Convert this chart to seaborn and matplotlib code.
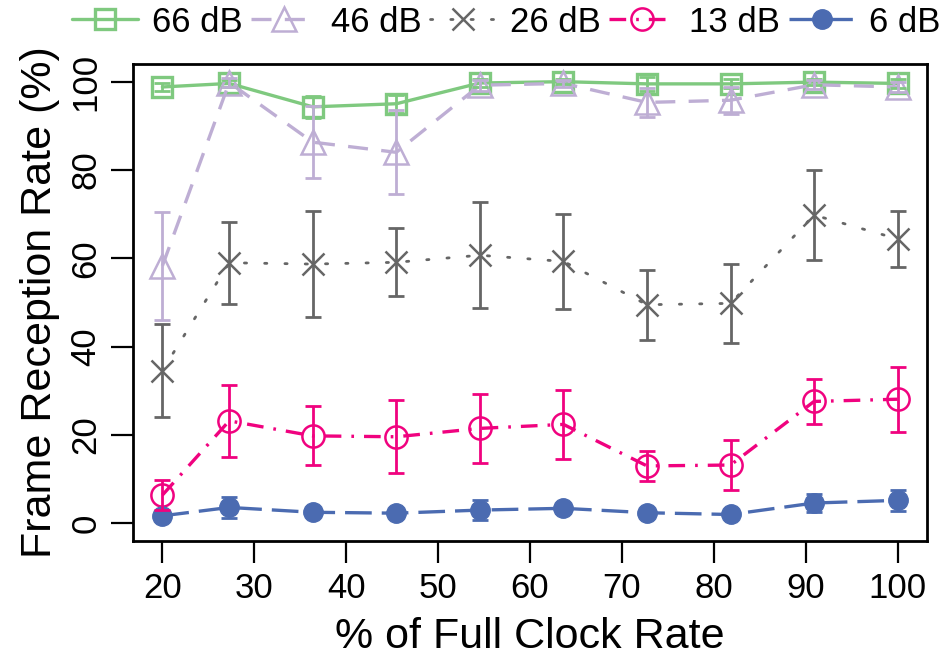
import numpy as np
import pandas as pd
import matplotlib
matplotlib.use("Agg")
import matplotlib.pyplot as plt
import seaborn as sns

# ---- data ----
clock_rate = [20, 27.27, 36.36, 45.45, 54.55, 63.64, 72.73, 81.82, 90.91, 100]
series_names = ["66 dB", "46 dB", "26 dB", "13 dB", "6 dB"]
rate_66 = [98.8, 99.6, 94.3, 95.0, 99.7, 100.0, 99.5, 99.5, 99.9, 99.6]
err_66 = [1.0, 0.8, 2.5, 2.0, 1.0, 0.5, 1.5, 1.0, 0.6, 1.0]
rate_46 = [58.3, 99.8, 86.3, 84.0, 99.2, 99.6, 95.3, 95.8, 99.3, 98.8]
err_46 = [12.2, 1.0, 8.1, 9.5, 1.2, 0.8, 3.2, 3.1, 1.0, 1.2]
rate_26 = [34.6, 59.0, 58.7, 59.1, 60.7, 59.3, 49.5, 49.8, 69.8, 64.4]
err_26 = [10.5, 9.3, 12.0, 7.7, 12.0, 10.8, 7.9, 8.9, 10.1, 6.4]
rate_13 = [6.4, 23.2, 19.8, 19.6, 21.5, 22.4, 13.0, 13.2, 27.6, 28.1]
err_13 = [3.4, 8.1, 6.7, 8.3, 7.8, 7.8, 3.4, 5.7, 5.1, 7.4]
rate_6 = [1.7, 3.6, 2.5, 2.3, 3.0, 3.4, 2.4, 2.0, 4.6, 5.2]
err_6 = [0.4, 2.3, 0.8, 0.6, 2.2, 1.0, 0.6, 0.5, 2.1, 2.3]
x_ticks = [20, 30, 40, 50, 60, 70, 80, 90, 100]
y_ticks = [0, 20, 40, 60, 80, 100]

rates = [rate_66, rate_46, rate_26, rate_13, rate_6]
errs = [err_66, err_46, err_26, err_13, err_6]

# ---- styles ----
colors = ["#7FC97F", "#BEAED4", "#666666", "#F0027F", "#4B6BB1"]
styles = [
    dict(marker="s", markersize=15, markerfacecolor="none", markeredgewidth=2.4,
         lw=2.4, ls="-"),
    dict(marker="^", markersize=17, markerfacecolor="none", markeredgewidth=1.8,
         lw=2.4, ls=(0, (6, 4))),
    dict(marker="x", markersize=16, markeredgewidth=1.8,
         lw=2.0, ls=(0, (0.8, 6.5)), dash_capstyle="round"),
    dict(marker="o", markersize=16, markerfacecolor="none", markeredgewidth=1.8,
         lw=2.4, ls=(0, (5, 3, 0.8, 3))),
    dict(marker="o", markersize=14, markeredgewidth=1.0,
         lw=2.4, ls=(0, (8, 3))),
]

sns.set_theme(style="ticks")
plt.rcParams["font.family"] = ["Liberation Sans", "DejaVu Sans"]
plt.rcParams["text.color"] = "black"
plt.rcParams["axes.labelcolor"] = "black"
plt.rcParams["xtick.color"] = "black"
plt.rcParams["ytick.color"] = "black"

fig = plt.figure(figsize=(9.4, 6.63), dpi=100)
ax = fig.add_axes([133 / 940, 122 / 663, 794 / 940, 477 / 663])

for name, r, c, st in zip(series_names, rates, colors, styles):
    df = pd.DataFrame({"x": clock_rate, "y": r})
    sns.lineplot(data=df, x="x", y="y", ax=ax, color=c, errorbar=None,
                 markeredgecolor=c, label=name, zorder=2, **st)
for r, e, c in zip(rates, errs, colors):
    ax.errorbar(clock_rate, r, yerr=e, fmt="none", ecolor=c, elinewidth=2.0,
                capsize=6, capthick=2.0, zorder=3)

h, l = ax.get_legend_handles_labels()
if ax.get_legend():
    ax.get_legend().remove()
fig.legend(h, l, loc="center", bbox_to_anchor=(506 / 940, 1 - 22 / 663),
           ncol=5, frameon=False, fontsize=25, handlelength=1.9,
           handletextpad=0.4, columnspacing=0.25, borderpad=0, borderaxespad=0,
           labelcolor="black")

ax.set_xlim(16.8, 103.2)
ax.set_ylim(-4, 104)
ax.set_xticks(x_ticks)
ax.set_yticks(y_ticks)
ax.set_xticklabels([str(t) for t in x_ticks])
ax.set_yticklabels([str(t) for t in y_ticks], rotation=90, va="center")
ax.tick_params(axis="both", direction="out", length=16, width=1.6,
               labelsize=25, pad=6, color="black", labelcolor="black")
for sp in ax.spines.values():
    sp.set_visible(True)
    sp.set_linewidth(2.0)
    sp.set_color("black")

ax.set_xlabel("% of Full Clock Rate", fontsize=31, color="black")
ax.set_ylabel("Frame Reception Rate (%)", fontsize=31, color="black")
ax.xaxis.set_label_coords(0.5, (663 - 617 - 122) / 477)
ax.yaxis.set_label_coords((60 - 133) / 794, 0.5)

fig.savefig("out.png", dpi=100)
